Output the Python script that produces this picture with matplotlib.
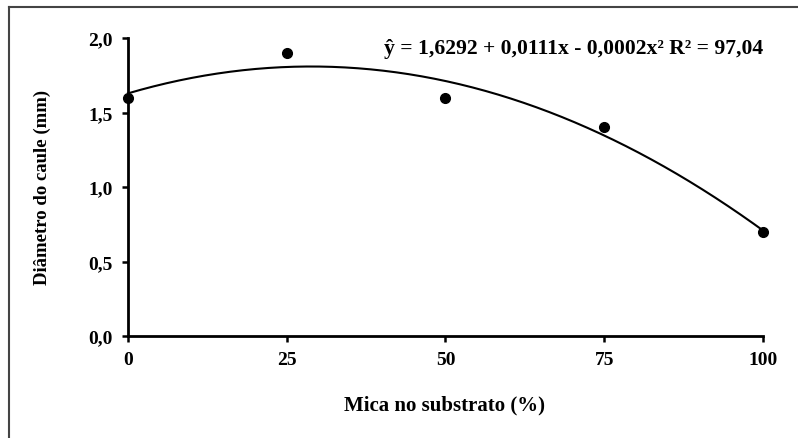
import matplotlib
matplotlib.use("Agg")
import matplotlib.pyplot as plt
import numpy as np
from matplotlib.lines import Line2D

# Mica no substrato (%) vs diametro do caule (mm)
mica = np.array([0, 25, 50, 75, 100])
diametro = np.array([1.6, 1.9, 1.6, 1.4, 0.7])

xticks = [0, 25, 50, 75, 100]
yticks = [0.0, 0.5, 1.0, 1.5, 2.0]
ytick_labels = ["0,0", "0,5", "1,0", "1,5", "2,0"]
equacao = "ŷ = 1,6292 + 0,0111x - 0,0002x² R² = 97,04"

plt.rcParams['font.family'] = ['Liberation Serif', 'DejaVu Serif']
plt.rcParams['font.weight'] = 'bold'

fig = plt.figure(figsize=(7.98, 4.39), dpi=100)
ax = fig.add_axes([0.1604, 0.2323, 0.7957, 0.6788])

# quadratic trend line fitted to the points
coef = np.polyfit(mica, diametro, 2)
xs = np.linspace(0, 100, 200)
ax.plot(xs, np.polyval(coef, xs), color='black', linewidth=1.5, clip_on=False)
ax.plot(mica, diametro, 'o', color='black', markersize=7, clip_on=False, zorder=5)

ax.set_xlim(0, 100)
ax.set_ylim(0, 2.0)
ax.set_xticks(xticks)
ax.set_yticks(yticks)
ax.set_yticklabels(ytick_labels)
ax.tick_params(labelsize=14, width=1.8, length=4, pad=7, direction='out')
for lab in ax.get_xticklabels() + ax.get_yticklabels():
    lab.set_fontweight('bold')

for s in ['top', 'right']:
    ax.spines[s].set_visible(False)
for s in ['left', 'bottom']:
    ax.spines[s].set_linewidth(2)

ax.text(100, 1.93, equacao, ha='right', va='center', fontsize=15.6, fontweight='bold')

fig.text(0.0526, 0.572, "Diâmetro do caule (mm)", rotation=90, ha='center', va='center',
         fontsize=13.5, fontweight='bold')
fig.text(0.5576, 0.077, "Mica no substrato (%)", ha='center', va='center',
         fontsize=15, fontweight='bold')

# outer frame (top and left edges visible)
fig.add_artist(Line2D([0.0113, 0.0113], [0, 0.982], color='#444444', linewidth=1.5))
fig.add_artist(Line2D([0.0113, 1], [0.982, 0.982], color='#444444', linewidth=1.5))

plt.savefig("out.png", dpi=100)
